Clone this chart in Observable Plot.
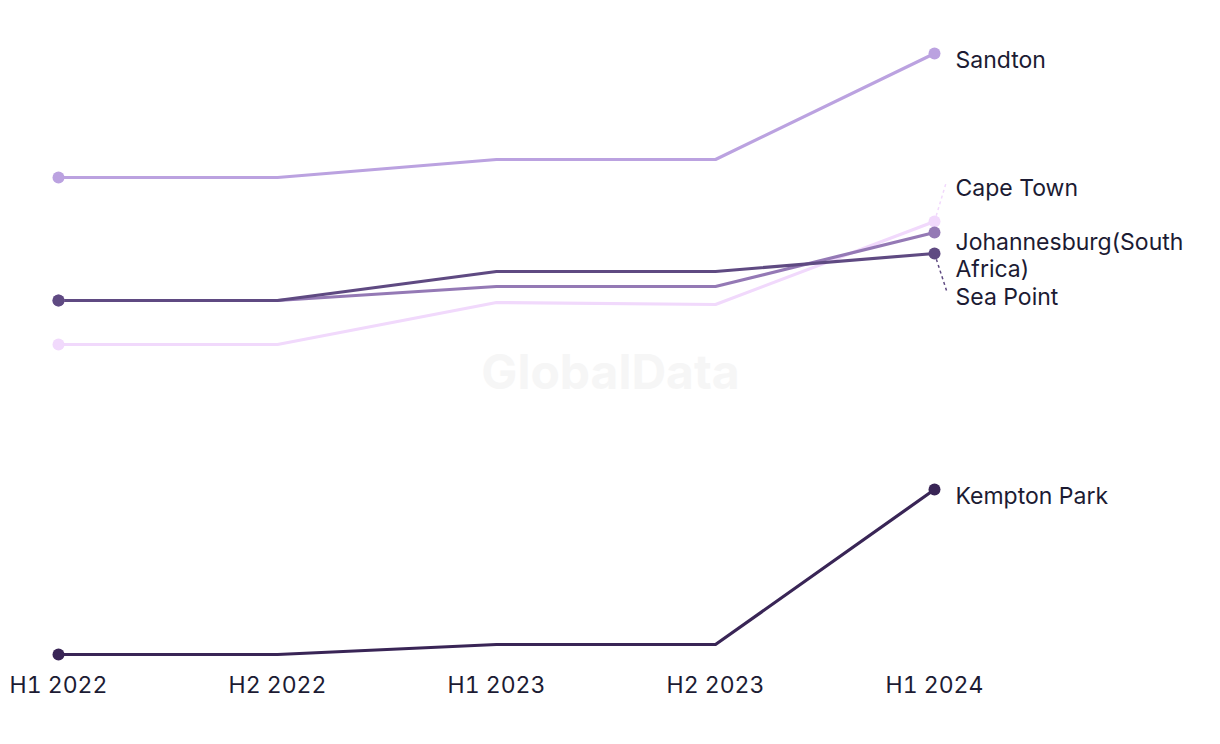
<!DOCTYPE html>
<html><head><meta charset="utf-8">
<script src="https://cdn.jsdelivr.net/npm/d3@7"></script>
<script src="https://cdn.jsdelivr.net/npm/@observablehq/plot@0.6"></script>
<style>
body{margin:0;background:#fff;font-family:Inter,"Noto Sans",sans-serif}
#chart svg{display:block}
</style>
</head><body><div id="chart"></div>
<script>
// ---- data ----
const periods = ["H1 2022", "H2 2022", "H1 2023", "H2 2023", "H1 2024"];
const seriesNames = ["Sandton", "Cape Town", "Johannesburg(South Africa)", "Sea Point", "Kempton Park"];
const sandton      = [104.6, 104.6, 108.2, 108.2, 129.4];
const capeTown     = [71.2, 71.2, 79.6, 79.2, 95.8];
const johannesburg = [80.0, 80.0, 82.8, 82.8, 93.6];
const seaPoint     = [80.0, 80.0, 85.8, 85.8, 89.4];
const kemptonPark  = [9.2, 9.2, 11.2, 11.2, 42.2];
const seriesValues = [sandton, capeTown, johannesburg, seaPoint, kemptonPark];

// ---- style ----
const seriesColors = ["#bba2e0", "#f1d9fc", "#9479b5", "#5f4a82", "#392556"];
const labelNudge = {"Sandton": 6, "Cape Town": -34, "Johannesburg(South Africa)": 22, "Sea Point": 43, "Kempton Park": 6}; // px
const leaderFor = new Set(["Cape Town", "Sea Point"]);

const W = 1220, H = 744;
const mL = 58, mR = 286, mT = 53, mB = 90;
const yDomain = [9.2, 129.4];
const pxPerY = (H - mT - mB) / (yDomain[1] - yDomain[0]);
const pxPerX = (W - mL - mR) / (periods.length - 1);
const textColor = "#1c1b33";

const data = [];
seriesNames.forEach((name, s) => seriesValues[s].forEach((v, i) => data.push({name, i, value: v, color: seriesColors[s]})));
const firsts = data.filter(d => d.i === 0);
const lasts = data.filter(d => d.i === periods.length - 1);
const leaders = lasts.filter(d => leaderFor.has(d.name));

const chart = Plot.plot({
  width: W, height: H,
  marginLeft: mL, marginRight: mR, marginTop: mT, marginBottom: mB,
  style: {fontFamily: "Inter, 'Noto Sans', sans-serif", background: "#fff"},
  x: {type: "linear", domain: [0, periods.length - 1], axis: null},
  y: {domain: yDomain, axis: null},
  marks: [
    Plot.text(["GlobalData"], {frameAnchor: "middle", dx: 610 - (mL + (W - mR)) / 2, dy: 373 - (mT + (H - mB)) / 2,
      fontSize: 48, fontWeight: "bold", fill: "#f6f6f6"}),
    Plot.axisX({ticks: periods.map((_, i) => i), tickFormat: i => periods[i], tickSize: 0, tickPadding: 22,
      fontSize: 23, color: textColor, label: null}),
    Plot.line(data, {x: "i", y: "value", z: "name", stroke: "color", strokeWidth: 3.2, strokeLinejoin: "round"}),
    Plot.dot(firsts, {x: "i", y: "value", r: 6, fill: "color"}),
    Plot.dot(lasts, {x: "i", y: "value", r: 6, fill: "color"}),
    Plot.link(leaders, {x1: "i", y1: "value",
      x2: d => d.i + 12 / pxPerX, y2: d => d.value - (labelNudge[d.name] - 6) / pxPerY,
      stroke: "color", strokeWidth: 1.5, strokeDasharray: "3,3"}),
    Plot.text(lasts, {x: "i", y: d => d.value - labelNudge[d.name] / pxPerY, text: "name", dx: 21,
      textAnchor: "start", lineAnchor: "middle", lineWidth: 10, lineHeight: 1.2, fontSize: 23, fill: textColor})
  ]
});
document.getElementById("chart").append(chart);
</script>
</body></html>
